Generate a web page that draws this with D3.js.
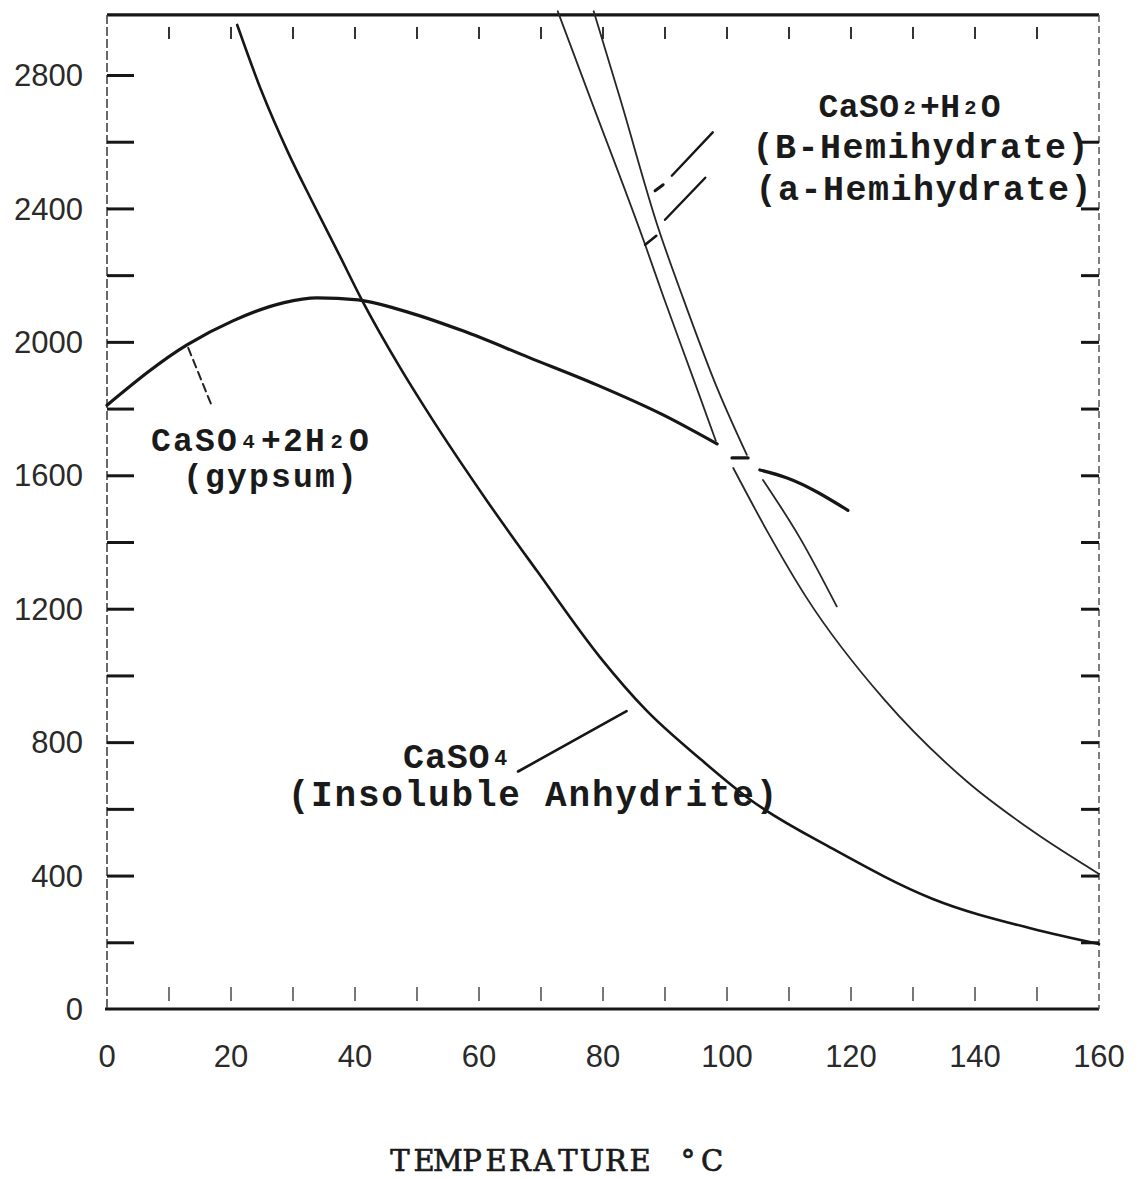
<!DOCTYPE html>
<html>
<head>
<meta charset="utf-8">
<script src="https://cdn.jsdelivr.net/npm/d3@7"></script>
<style>
  body { margin: 0; background: #fff; }
  svg { display: block; }
</style>
</head>
<body>
<svg id="chart" width="1137" height="1179"></svg>
<script>
// Solubility of the calcium sulfate phases against temperature (°C)

const tempLabels = [0, 20, 40, 60, 80, 100, 120, 140, 160];
const tempMinor = [10, 20, 30, 40, 50, 60, 70, 80, 90, 100, 110, 120, 130, 140, 150];
const solLabels = [0, 400, 800, 1200, 1600, 2000, 2400, 2800];
const solMinor = [200, 400, 600, 800, 1000, 1200, 1400, 1600, 1800, 2000, 2200, 2400, 2600, 2800];
const solMinorRight = [200, 400, 600, 800, 1000, 1200, 1400, 1600, 1800, 2000, 2200, 2400, 2600];

// CaSO4·2H2O (gypsum), split where the hemihydrate curves cut through it
const gypsumMain = [[0, 1810], [12.9, 1991], [20.3, 2063], [28.4, 2117], [33.9, 2132], [40.5, 2126],
  [47.3, 2096], [57.4, 2033], [68.2, 1952], [79.0, 1871], [89.7, 1781], [98.4, 1694]];
const gypsumStep = [[100.8, 1652], [103.4, 1652]];
const gypsumTail = [[105.3, 1616], [109.7, 1592], [119.5, 1495]];

// CaSO4 (insoluble anhydrite)
const anhydrite = [[21.0, 2950], [25.0, 2748], [29.2, 2568], [33.2, 2417], [37.3, 2267], [41.1, 2126],
  [47.3, 1922], [51.6, 1793], [61.3, 1523], [69.4, 1312], [79.5, 1055], [87.0, 895], [95.6, 751],
  [103.7, 628], [117.1, 480], [133.2, 330], [149.4, 240], [160, 195]];

// alpha hemihydrate (upper and lower runs)
const alphaUpper = [[72.7, 2991], [77.9, 2733], [86.8, 2291], [89.8, 2132], [94.7, 1883], [98.2, 1703]];
const alphaLower = [[101.0, 1622], [106.5, 1432], [112.9, 1231], [125.2, 931], [138.7, 682],
  [149.4, 532], [160, 405]];

// beta hemihydrate (upper and lower runs)
const betaUpper = [[78.5, 2991], [82.7, 2733], [88.9, 2342], [92.9, 2132], [98.4, 1862], [103.2, 1661]];
const betaLower = [[105.8, 1586], [111.8, 1411], [117.7, 1207]];

// short bar joining the two hemihydrate curves
const hemiBar = [[86.8, 2291], [88.6, 2318]];

// leader lines from the labels to their curves
const gypsumLeader = [[13.1, 1982], [16.9, 1808]];
const anhydriteLeader = [[66.3, 712], [83.8, 893]];
const betaLeader = [[97.7, 2628], [91.1, 2498]];
const betaLeaderTail = [[89.7, 2471], [88.4, 2453]];
const alphaLeader = [[96.5, 2492], [90.0, 2366]];

const svg = d3.select("#chart");
const x = d3.scaleLinear().domain([0, 160]).range([107, 1099]);
const y = d3.scaleLinear().domain([0, 2800]).range([1009, 75]);
const yTop = 2980;

const ink = "#161616";
const mono = "'Liberation Mono', 'DejaVu Sans Mono', monospace";
const serif = "'DejaVu Serif', 'Liberation Serif', serif";
const sans = "'Liberation Sans', Arial, sans-serif";

// frame
const frame = svg.append("g");
frame.append("line")
  .attr("x1", x(0)).attr("x2", x(160)).attr("y1", y(yTop)).attr("y2", y(yTop))
  .attr("stroke", ink).attr("stroke-width", 3.2);
frame.append("line")
  .attr("x1", x(0) - 2).attr("x2", x(160)).attr("y1", y(0)).attr("y2", y(0))
  .attr("stroke", ink).attr("stroke-width", 3.2);
frame.append("line")
  .attr("x1", x(0)).attr("x2", x(0)).attr("y1", y(yTop)).attr("y2", y(0))
  .attr("stroke", "#444").attr("stroke-width", 1.6).attr("stroke-dasharray", "9,3");
frame.append("line")
  .attr("x1", x(160)).attr("x2", x(160)).attr("y1", y(yTop)).attr("y2", y(0))
  .attr("stroke", "#555").attr("stroke-width", 1.5).attr("stroke-dasharray", "7,4");

// left ticks and labels
const leftAxis = svg.append("g")
  .attr("transform", `translate(${x(0)},0)`)
  .call(d3.axisRight(y).tickValues(solMinor).tickSize(27).tickFormat(""));
leftAxis.select(".domain").remove();
leftAxis.selectAll(".tick line").attr("stroke", ink).attr("stroke-width", 3);

svg.append("g").selectAll("text").data(solLabels).join("text")
  .attr("x", 83).attr("y", d => y(d)).attr("dy", "0.36em")
  .attr("text-anchor", "end")
  .attr("font-family", sans).attr("font-size", 31).attr("fill", "#2a2a2a")
  .text(d => d);

// right ticks
const rightAxis = svg.append("g")
  .attr("transform", `translate(${x(160)},0)`)
  .call(d3.axisLeft(y).tickValues(solMinorRight).tickSize(18).tickFormat(""));
rightAxis.select(".domain").remove();
rightAxis.selectAll(".tick line").attr("stroke", ink).attr("stroke-width", 3);

// top ticks (short, hanging below the frame line)
svg.append("g").selectAll("line").data(tempMinor).join("line")
  .attr("x1", d => x(d)).attr("x2", d => x(d))
  .attr("y1", y(yTop) + 12).attr("y2", y(yTop) + 24)
  .attr("stroke", "#333").attr("stroke-width", 2);

// bottom ticks
svg.append("g").selectAll("line").data(tempMinor).join("line")
  .attr("x1", d => x(d)).attr("x2", d => x(d))
  .attr("y1", y(0) - 22).attr("y2", y(0) - 8)
  .attr("stroke", "#555").attr("stroke-width", 1.6);

// temperature labels
svg.append("g").selectAll("text").data(tempLabels).join("text")
  .attr("x", d => x(d)).attr("y", 1067)
  .attr("text-anchor", "middle")
  .attr("font-family", sans).attr("font-size", 31).attr("fill", "#2a2a2a")
  .text(d => d);

// curves
const line = d3.line().x(d => x(d[0])).y(d => y(d[1])).curve(d3.curveMonotoneX);
const straight = d3.line().x(d => x(d[0])).y(d => y(d[1]));
const curves = svg.append("g").attr("fill", "none").attr("stroke-linecap", "round");

[gypsumMain, gypsumTail].forEach(seg => curves.append("path").attr("d", line(seg))
  .attr("stroke", ink).attr("stroke-width", 3.2));
curves.append("path").attr("d", straight(gypsumStep)).attr("stroke", ink).attr("stroke-width", 3.2);

curves.append("path").attr("d", line(anhydrite)).attr("stroke", ink).attr("stroke-width", 2.6);

[alphaUpper, alphaLower, betaUpper, betaLower].forEach(seg => curves.append("path")
  .attr("d", line(seg)).attr("stroke", "#262626").attr("stroke-width", 1.8));
curves.append("path").attr("d", straight(hemiBar)).attr("stroke", ink).attr("stroke-width", 2.6);

// leaders
curves.append("path").attr("d", straight(gypsumLeader)).attr("stroke", "#222")
  .attr("stroke-width", 2).attr("stroke-dasharray", "8,5");
curves.append("path").attr("d", straight(anhydriteLeader)).attr("stroke", ink).attr("stroke-width", 2.6);
curves.append("path").attr("d", straight(betaLeader)).attr("stroke", ink).attr("stroke-width", 2.4);
curves.append("path").attr("d", straight(betaLeaderTail)).attr("stroke", ink).attr("stroke-width", 3);
curves.append("path").attr("d", straight(alphaLeader)).attr("stroke", ink).attr("stroke-width", 2.4);

// Typewriter-style text: every character, subscripts included, sits centred in one
// fixed-width cell.
const meter = svg.append("text").attr("visibility", "hidden");
function glyphWidth(ch, family, fs, weight) {
  meter.attr("font-family", family).attr("font-size", fs).attr("font-weight", weight).text(ch);
  return meter.node().getComputedTextLength();
}
function typeText(parts, opt, px, py) {
  const {cell, fs, family = mono, weight = "bold", stroke = 0} = opt;
  const t = svg.append("text")
    .attr("font-family", family).attr("font-size", fs).attr("font-weight", weight)
    .attr("fill", "#1a1a1a");
  if (stroke) t.attr("stroke", "#1a1a1a").attr("stroke-width", stroke);
  let k = 0;
  parts.forEach(p => {
    const size = p.sub ? fs * 0.62 : fs;
    const xs = Array.from(p.t).map((ch, i) => {
      const w = glyphWidth(ch, family, size, weight);
      return (px + (k + i) * cell + (cell - w) / 2).toFixed(1);
    });
    t.append("tspan").attr("x", xs.join(" ")).attr("y", p.sub ? py - 3 : py)
      .attr("font-size", size).text(p.t);
    k += p.t.length;
  });
  return t;
}

typeText([{t: "CaSO"}, {t: "4", sub: true}, {t: "+2H"}, {t: "2", sub: true}, {t: "O"}], {cell: 22, fs: 33}, x(6.9), 451);
typeText([{t: "(gypsum)"}], {cell: 22, fs: 33}, x(12.1), 487);
typeText([{t: "CaSO"}, {t: "4", sub: true}], {cell: 21.8, fs: 35}, x(47.7), y(722));
typeText([{t: "(Insoluble Anhydrite)"}], {cell: 23.4, fs: 36}, x(29.0), y(609));
typeText([{t: "CaSO"}, {t: "2", sub: true}, {t: "+H"}, {t: "2", sub: true}, {t: "O"}], {cell: 20.3, fs: 33}, x(114.7), y(2674));
typeText([{t: "(B-Hemihydrate)"}], {cell: 22.5, fs: 35}, x(104.0), y(2551));
typeText([{t: "(a-Hemihydrate)"}], {cell: 22.5, fs: 35}, x(104.5), y(2425));

// axis title
typeText([{t: "TEMPERATURE °C"}], {cell: 24, fs: 29, family: serif, weight: "normal", stroke: 0.7}, 388, 1171);
meter.remove();
</script>
</body>
</html>
